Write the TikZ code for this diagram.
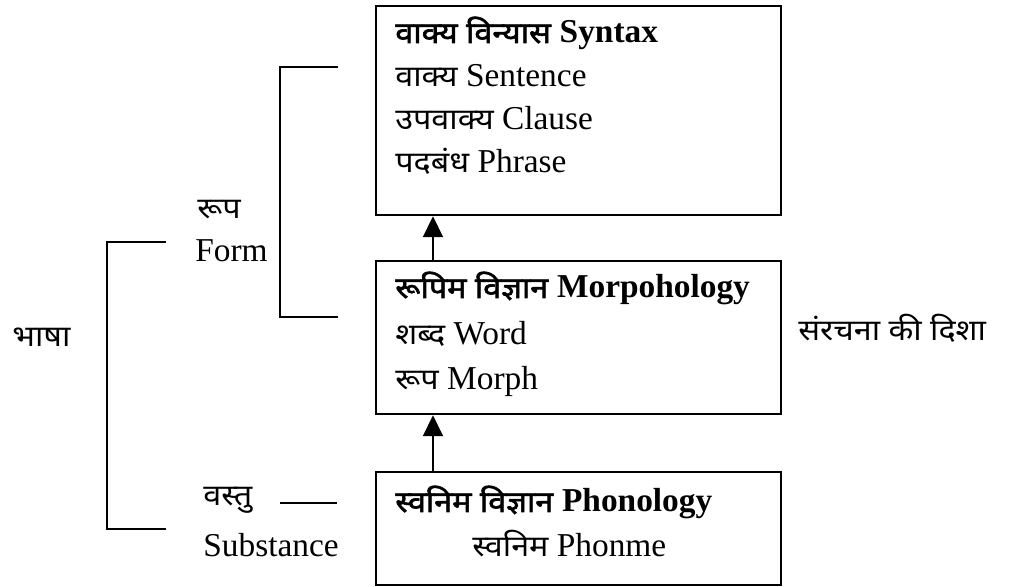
\documentclass[tikz,border=0pt]{standalone}
\usepackage{fontspec}
\setmainfont{Liberation Serif}
\newfontfamily\hin[Script=Devanagari,Scale=0.88,FakeStretch=1.1]{Noto Sans}
\newfontfamily\hinbf[Script=Devanagari,Scale=0.88,FakeStretch=1.1,FakeBold=2]{Noto Sans}
\usetikzlibrary{arrows.meta}

\begin{document}
\begin{tikzpicture}[x=0.02cm, y=-0.02cm,
    box/.style={draw, line width=1.3pt, anchor=north west, minimum width=8.1cm, inner sep=0pt},
    txt/.style={anchor=base west, inner sep=0pt, font=\fontsize{19pt}{22pt}\selectfont},
    lbl/.style={inner sep=0pt, font=\fontsize{19pt}{22pt}\selectfont},
    brk/.style={line width=1pt},
    arr/.style={line width=1.2pt, -{Triangle[width=0.4cm, length=0.42cm]}}]
        \useasboundingbox (0,0) rectangle (1009,587);

        % the three levels
        \node[box, minimum height=4.18cm] (syntax) at (375,5) {};
        \node[txt] (syn1) at (395,43) {{\hinbf वाक्य विन्यास} \textbf{Syntax}};
        \node[txt] (syn2) at (395,87) {{\hin वाक्य} Sentence};
        \node[txt] (syn3) at (395,130) {{\hin उपवाक्य} Clause};
        \node[txt] (syn4) at (395,173) {{\hin पदबंध} Phrase};

        \node[box, minimum height=3.06cm] (morph) at (375,260) {};
        \node[txt] (mor1) at (395,298) {{\hinbf रूपिम विज्ञान} \textbf{Morpohology}};
        \node[txt] (mor2) at (395,345) {{\hin शब्द} Word};
        \node[txt] (mor3) at (395,390) {{\hin रूप} Morph};

        \node[box, minimum height=2.26cm] (phon) at (375,471) {};
        \node[txt] (pho1) at (395,512) {{\hinbf स्वनिम विज्ञान} \textbf{Phonology}};
        \node[txt] (pho2) at (472,557) {{\hin स्वनिम} Phonme};

        \coordinate (ax) at (433,0);
        \draw[arr] (phon.north -| ax) -- (morph.south -| ax);
        \draw[arr] (morph.north -| ax) -- (syntax.south -| ax);

        % brackets on the left
        \draw[brk] (338,67) -- (280,67) -- (280,317) -- (338,317);
        \draw[brk] (166,242) -- (107,242) -- (107,529) -- (166,529);
        \draw[brk] (280,503) -- (337,503);

        \node[lbl, anchor=west] (rup) at (197,210) {\hin रूप};
        \node[lbl, anchor=base west] (form) at (195,262) {Form};
        \node[lbl, anchor=west] (bhasha) at (12,337) {\hin भाषा};
        \node[lbl, anchor=west] (vastu) at (203,500) {\hin वस्तु};
        \node[lbl, anchor=base west] (subst) at (203,557) {Substance};

        \node[lbl, anchor=west] (dir) at (798,328) {\hin संरचना की दिशा};
\end{tikzpicture}
\end{document}
